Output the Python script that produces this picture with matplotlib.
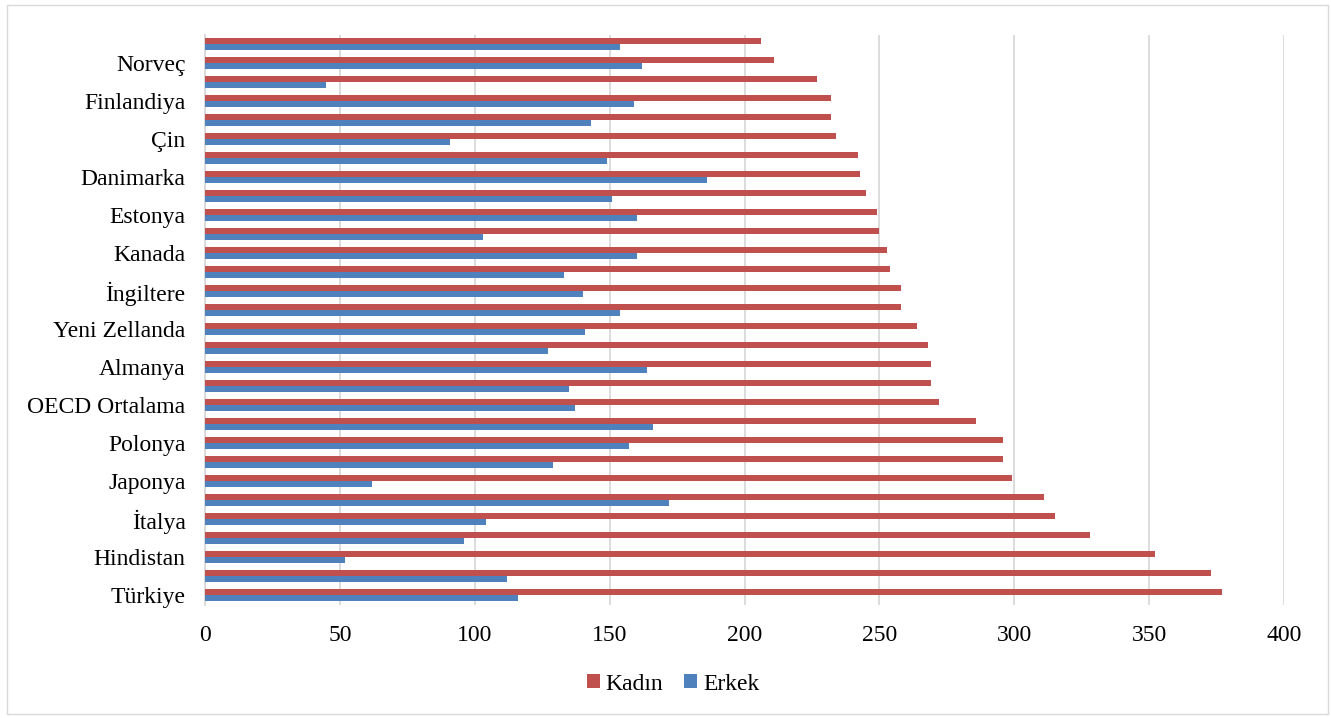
import matplotlib
matplotlib.use("Agg")
import matplotlib.pyplot as plt
from matplotlib.patches import Rectangle
import numpy as np

plt.rcParams['font.family'] = ['Liberation Serif', 'DejaVu Serif']

# Categories from bottom to top; only every other one carries a visible label
categories = [
    "Türkiye", "", "Hindistan", "", "İtalya", "", "Japonya", "", "Polonya", "",
    "OECD Ortalama", "", "Almanya", "", "Yeni Zellanda", "", "İngiltere", "",
    "Kanada", "", "Estonya", "", "Danimarka", "", "Çin", "", "Finlandiya", "",
    "Norveç", "",
]
kadin = [377, 373, 352, 328, 315, 311, 299, 296, 296, 286,
         272, 269, 269, 268, 264, 258, 258, 254, 253, 250,
         249, 245, 243, 242, 234, 232, 232, 227, 211, 206]
erkek = [116, 112, 52, 96, 104, 172, 62, 129, 157, 166,
         137, 135, 164, 127, 141, 154, 140, 133, 160, 103,
         160, 151, 186, 149, 91, 143, 159, 45, 162, 154]
x_ticks = [0, 50, 100, 150, 200, 250, 300, 350, 400]

RED = "#C0504D"
BLUE = "#4F81BD"
GRID = "#D9D9D9"
FS = 17

W, H = 1331, 718
fig = plt.figure(figsize=(W / 100, H / 100), dpi=100)
fig.patch.set_facecolor("white")

# thin outer frame of the chart
fig.add_artist(Rectangle((7 / W, 4 / H), 1321 / W, 709 / H, transform=fig.transFigure,
                         fill=False, edgecolor=GRID, linewidth=1.0))

ax = fig.add_axes([205 / W, 1 - 604.5 / H, (1284 - 205) / W, (604.5 - 34.5) / H])

y = np.arange(len(categories))
h = 0.31
ax.barh(y + h / 2, kadin, height=h, color=RED, label="Kadın", zorder=3)
ax.barh(y - h / 2, erkek, height=h, color=BLUE, label="Erkek", zorder=3)

ax.set_xlim(0, 400)
ax.set_ylim(-0.5, len(categories) - 0.5)
ax.set_xticks(x_ticks)
ax.set_xticklabels([str(t) for t in x_ticks], fontsize=FS)
ax.set_yticks(y)
ax.set_yticklabels(categories, fontsize=FS)
ax.tick_params(axis="both", length=0)
ax.tick_params(axis="x", pad=15)
ax.tick_params(axis="y", pad=14)

ax.grid(axis="x", color=GRID, linewidth=1.3, zorder=0)
ax.set_axisbelow(True)
for side in ("top", "right", "bottom"):
    ax.spines[side].set_visible(False)
ax.spines["left"].set_color(GRID)
ax.spines["left"].set_linewidth(1.3)

leg = fig.legend(loc="center", bbox_to_anchor=(673 / W, 1 - 684 / H), ncol=2,
                 frameon=False, fontsize=FS, handlelength=0.55, handleheight=0.55,
                 handletextpad=0.25, columnspacing=0.9)

fig.savefig("out.png", dpi=100)
